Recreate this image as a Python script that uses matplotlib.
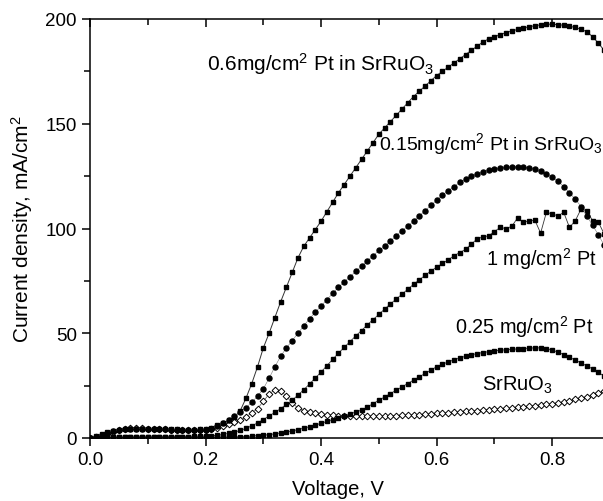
import numpy as np
import matplotlib

matplotlib.use("Agg")
import matplotlib.pyplot as plt  # noqa: E402
from matplotlib.ticker import MultipleLocator, FormatStrFormatter  # noqa: E402

plt.rcParams["font.family"] = ["Liberation Sans", "DejaVu Sans"]
plt.rcParams["mathtext.fontset"] = "custom"
plt.rcParams["mathtext.rm"] = "Liberation Sans"
plt.rcParams["mathtext.it"] = "Liberation Sans:italic"

# voltage grid, 10 mV steps (0.00 ... 0.89 V visible)
voltage = np.arange(90) * 0.01

# 0.6 mg/cm2 Pt in SrRuO3
pt06_srruo3 = [
    0, 1, 2, 3, 3.5, 4, 4.5, 4.5, 4.5, 4.5,
    4.5, 4.5, 4.5, 4.3, 4.2, 4.2, 4.0, 4.0, 4.0, 4.2,
    4.5, 5, 6, 7, 8.5, 10, 13, 19, 26, 34,
    43, 50, 57.5, 65, 72, 79, 86, 91.5, 95.5, 99.5,
    103.5, 108, 112.5, 117, 121, 125, 129, 133, 137, 141,
    145, 148, 151, 154, 157, 160, 163, 165.5, 168, 170.5,
    173, 175, 177, 179, 181, 183, 185, 187, 189, 190.5,
    191.5, 192.5, 193.5, 194.3, 195, 195.7, 196.3, 196.8, 197.2, 197.5,
    197.5, 197.3, 197, 196.5, 196, 195, 194, 191.5, 188.5, 185,
]
# 0.15 mg/cm2 Pt in SrRuO3
pt015_srruo3 = [
    0, 0.5, 1.5, 2.5, 3.5, 4, 4.2, 4.4, 4.5, 4.5,
    4.4, 4.3, 4.2, 4.1, 4, 4, 4, 4, 4, 4,
    4, 4.5, 5.5, 7, 8.5, 10.5, 12.5, 14.5, 17, 20,
    23.5, 28.5, 34, 39, 43, 46.5, 50, 53.5, 57, 60,
    63, 66, 69, 72, 74.5, 77, 79.5, 82, 84.5, 87,
    89.5, 91.5, 94, 96.5, 99, 101, 103.5, 106, 108.5, 111,
    113.5, 116, 118, 120, 122, 123.5, 125, 126, 127, 128,
    128.5, 129, 129.3, 129.5, 129.5, 129.3, 129, 128.3, 127.3, 126,
    124.5, 122.5, 120, 117, 114, 110.5, 106, 101.5, 97, 92,
]
# 1 mg/cm2 Pt
pt1 = [
    0, 0.2, 0.3, 0.4, 0.5, 0.5, 0.5, 0.6, 0.6, 0.6,
    0.6, 0.6, 0.6, 0.7, 0.7, 0.7, 0.7, 0.7, 0.8, 0.8,
    0.8, 1.0, 1.3, 1.7, 2.2, 2.8, 3.6, 4.6, 5.8, 7.2,
    8.8, 10.5, 12.2, 14, 16, 18, 20.5, 23, 25.8, 28.6,
    31.5, 34.5, 37.5, 40.5, 43.2, 46, 48.7, 51.3, 54, 56.5,
    59, 61.5, 64, 66.3, 68.6, 71, 73.3, 75.5, 77.6, 79.7,
    81.5, 83.3, 85, 87, 88.5, 90, 92.5, 95, 96, 96.5,
    98.5, 100.5, 100, 101, 105, 103, 103.7, 104, 97.8, 107.7,
    107, 106, 107.7, 100.5, 103.7, 109.3, 108.5, 103.7, 103, 97.4,
]
# 0.25 mg/cm2 Pt
pt025 = [
    0, 0.1, 0.2, 0.2, 0.3, 0.3, 0.3, 0.3, 0.3, 0.3,
    0.3, 0.3, 0.3, 0.3, 0.3, 0.3, 0.3, 0.3, 0.3, 0.3,
    0.3, 0.3, 0.4, 0.4, 0.5, 0.5, 0.6, 0.7, 0.9, 1.1,
    1.3, 1.6, 2.0, 2.4, 2.9, 3.4, 4.0, 4.7, 5.4, 6.2,
    7.0, 7.9, 8.8, 9.7, 10.6, 11.5, 12.4, 13.3, 14.8, 16.4,
    18, 19.6, 21.2, 22.8, 24.4, 26, 27.6, 29.2, 30.8, 32.4,
    34, 35.2, 36.3, 37.3, 38.2, 39, 39.7, 40.3, 40.8, 41.2,
    41.6, 41.9, 42.1, 42.3, 42.5, 42.7, 42.9, 43, 43, 42.7,
    42, 41, 39.8, 38.5, 37.2, 35.8, 34.4, 33, 31.3, 29.5,
]
# bare SrRuO3
srruo3 = [
    0, 0.3, 1, 2, 3, 4, 4.5, 4.8, 4.8, 4.7,
    4.5, 4.3, 4.2, 4.1, 4, 4, 3.9, 3.9, 3.9, 3.9,
    4, 4.5, 5, 5.8, 6.5, 7.5, 8.5, 10, 12, 14,
    17.5, 21, 23, 22.5, 20, 16.5, 14.5, 13, 12.2, 11.8,
    11.4, 11.1, 10.9, 10.7, 10.6, 10.5, 10.4, 10.3, 10.3, 10.3,
    10.4, 10.5, 10.6, 10.7, 10.8, 10.9, 11, 11.1, 11.3, 11.5,
    11.7, 11.9, 12.1, 12.3, 12.5, 12.7, 12.9, 13.1, 13.3, 13.5,
    13.7, 13.9, 14.1, 14.3, 14.6, 14.9, 15.2, 15.5, 15.8, 16.1,
    16.4, 16.8, 17.3, 17.8, 18.4, 19, 19.7, 20.5, 21.3, 22.3,
]

fig = plt.figure(figsize=(6.03, 5.02), dpi=100)
ax = fig.add_axes([90 / 603, 1 - 439 / 502, (603 - 90) / 603, (439 - 20) / 502])

ax.plot(voltage, srruo3, ls="-", lw=0.5, color="#555555", marker="D", ms=3.4,
        mfc="white", mec="black", mew=0.7)
ax.plot(voltage, pt025, ls="-", lw=0.6, color="#333333", marker="s", ms=3.4,
        mfc="black", mec="black")
ax.plot(voltage, pt1, ls="-", lw=0.6, color="#333333", marker="s", ms=3.4,
        mfc="black", mec="black")
ax.plot(voltage, pt015_srruo3, ls="-", lw=0.4, color="#777777", marker="o", ms=3.6,
        mfc="black", mec="black")
ax.plot(voltage, pt06_srruo3, ls="-", lw=0.7, color="#333333", marker="s", ms=3.3,
        mfc="black", mec="black")

ax.set_xlim(0, 0.888)
ax.set_ylim(0, 200)
ax.spines["right"].set_visible(False)
for s in ("left", "bottom", "top"):
    ax.spines[s].set_linewidth(1.1)

ax.xaxis.set_major_locator(MultipleLocator(0.2))
ax.xaxis.set_minor_locator(MultipleLocator(0.1))
ax.yaxis.set_major_locator(MultipleLocator(50))
ax.yaxis.set_minor_locator(MultipleLocator(25))
ax.tick_params(axis="x", which="both", direction="out", top=False, labelsize=13.5)
ax.tick_params(axis="y", which="both", direction="out", right=False, labelsize=13.5)
ax.tick_params(which="major", length=6, width=1.1)
ax.tick_params(which="minor", length=4, width=1.1)
ax.xaxis.set_major_formatter(FormatStrFormatter("%.1f"))

# top axis ticks point inward
top = ax.secondary_xaxis("top")
top.xaxis.set_major_locator(MultipleLocator(0.2))
top.xaxis.set_minor_locator(MultipleLocator(0.1))
top.tick_params(which="both", direction="in", labeltop=False, width=1.1)
top.tick_params(which="major", length=6)
top.tick_params(which="minor", length=4)
top.spines["top"].set_visible(False)

ax.set_xlabel("Voltage, V", fontsize=14.5)
ax.xaxis.set_label_coords(0.484, -0.098)
ax.set_ylabel("Current density, mA/cm$^\\mathrm{2}$", fontsize=15)
ax.yaxis.set_label_coords(-0.107, 0.5)

ax.text(0.203, 179, "0.6mg/cm$^\\mathrm{2}$ Pt in SrRuO$_\\mathrm{3}$", fontsize=15, va="center")
ax.text(0.50, 141, "0.15mg/cm$^\\mathrm{2}$ Pt in SrRuO$_\\mathrm{3}$", fontsize=14, va="center")
ax.text(0.685, 86, "1 mg/cm$^\\mathrm{2}$ Pt", fontsize=14.3, va="center")
ax.text(0.632, 53.6, "0.25 mg/cm$^\\mathrm{2}$ Pt", fontsize=14.3, va="center")
ax.text(0.679, 25.8, "SrRuO$_\\mathrm{3}$", fontsize=14.5, va="center")

fig.savefig("out.png", dpi=100)
